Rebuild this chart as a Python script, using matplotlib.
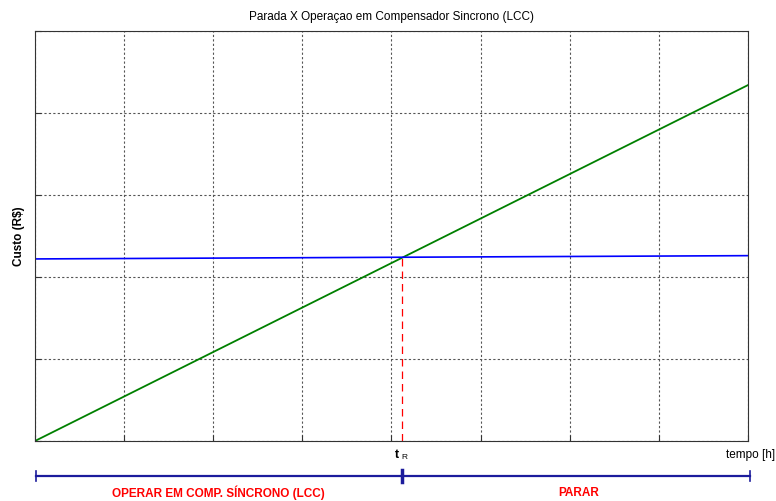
import matplotlib
matplotlib.use("Agg")
import matplotlib.pyplot as plt
import numpy as np

plt.rcParams['font.family'] = ['Liberation Sans', 'DejaVu Sans']

# data (arbitrary units)
x_range = [0, 8]
green_x = [0, 8]
green_y = [0, 4.34]
blue_x = [0, 8]
blue_y = [2.22, 2.26]
t_R = 4.12
title = "Parada X Operaçao em Compensador Sincrono (LCC)"
ylabel = "Custo (R$)"
xlabel = "tempo [h]"
left_label = "OPERAR EM COMP. SÍNCRONO (LCC)"
right_label = "PARAR"

fig = plt.figure(figsize=(7.76, 5.01), dpi=100)
ax = fig.add_axes([0.0451, 0.1198, 0.9188, 0.8184])
ax.set_xlim(*x_range)
ax.set_ylim(0, 5)
ax.set_xticks(np.arange(0, 9, 1))
ax.set_yticks(np.arange(0, 6, 1))
ax.set_xticklabels([])
ax.set_yticklabels([])
ax.tick_params(direction='in', length=4, color='#333333')
ax.grid(True, linestyle=(0, (2, 2)), color='#555555', linewidth=0.8)
for s in ax.spines.values():
    s.set_color('#333333')

ax.plot(green_x, green_y, color='#008000', linewidth=1.3)
ax.plot(blue_x, blue_y, color='#0000ff', linewidth=1.2)
yc = np.interp(t_R, green_x, green_y)
ax.plot([t_R, t_R], [0, yc], color='#ff0000', linestyle=(0, (6, 4)), linewidth=0.9)

ax.set_title(title, fontsize=8.5, pad=8)
ax.set_ylabel(ylabel, fontsize=8.5, fontweight='bold', labelpad=4)

tr = ax.get_xaxis_transform()
ax.text(t_R - 0.06, -0.035, "t", fontsize=9, fontweight='bold', transform=tr, ha='center', va='center', clip_on=False)
ax.text(t_R + 0.03, -0.04, "R", fontsize=6, transform=tr, ha='center', va='center', clip_on=False)
ax.text(8.3, -0.035, xlabel, fontsize=8.5, transform=tr, ha='right', va='center', clip_on=False)

yb = -0.085
ax.plot([0.01, 8.02], [yb, yb], color='#1c1c9c', linewidth=1.6, transform=tr, clip_on=False)
for xx, lw, h in [(0.01, 1.2, 0.012), (8.02, 1.2, 0.012), (t_R, 2.5, 0.014)]:
    ax.plot([xx, xx], [yb - h, yb + h], color='#1c1c9c', linewidth=lw, transform=tr, clip_on=False)
ax.text(t_R / 2, -0.127, left_label, fontsize=8.5, fontweight='bold', color='#ff0000', transform=tr, ha='center', va='center', clip_on=False)
ax.text(6.1, -0.127, right_label, fontsize=8.5, fontweight='bold', color='#ff0000', transform=tr, ha='center', va='center', clip_on=False)

fig.savefig("out.png", dpi=100)
